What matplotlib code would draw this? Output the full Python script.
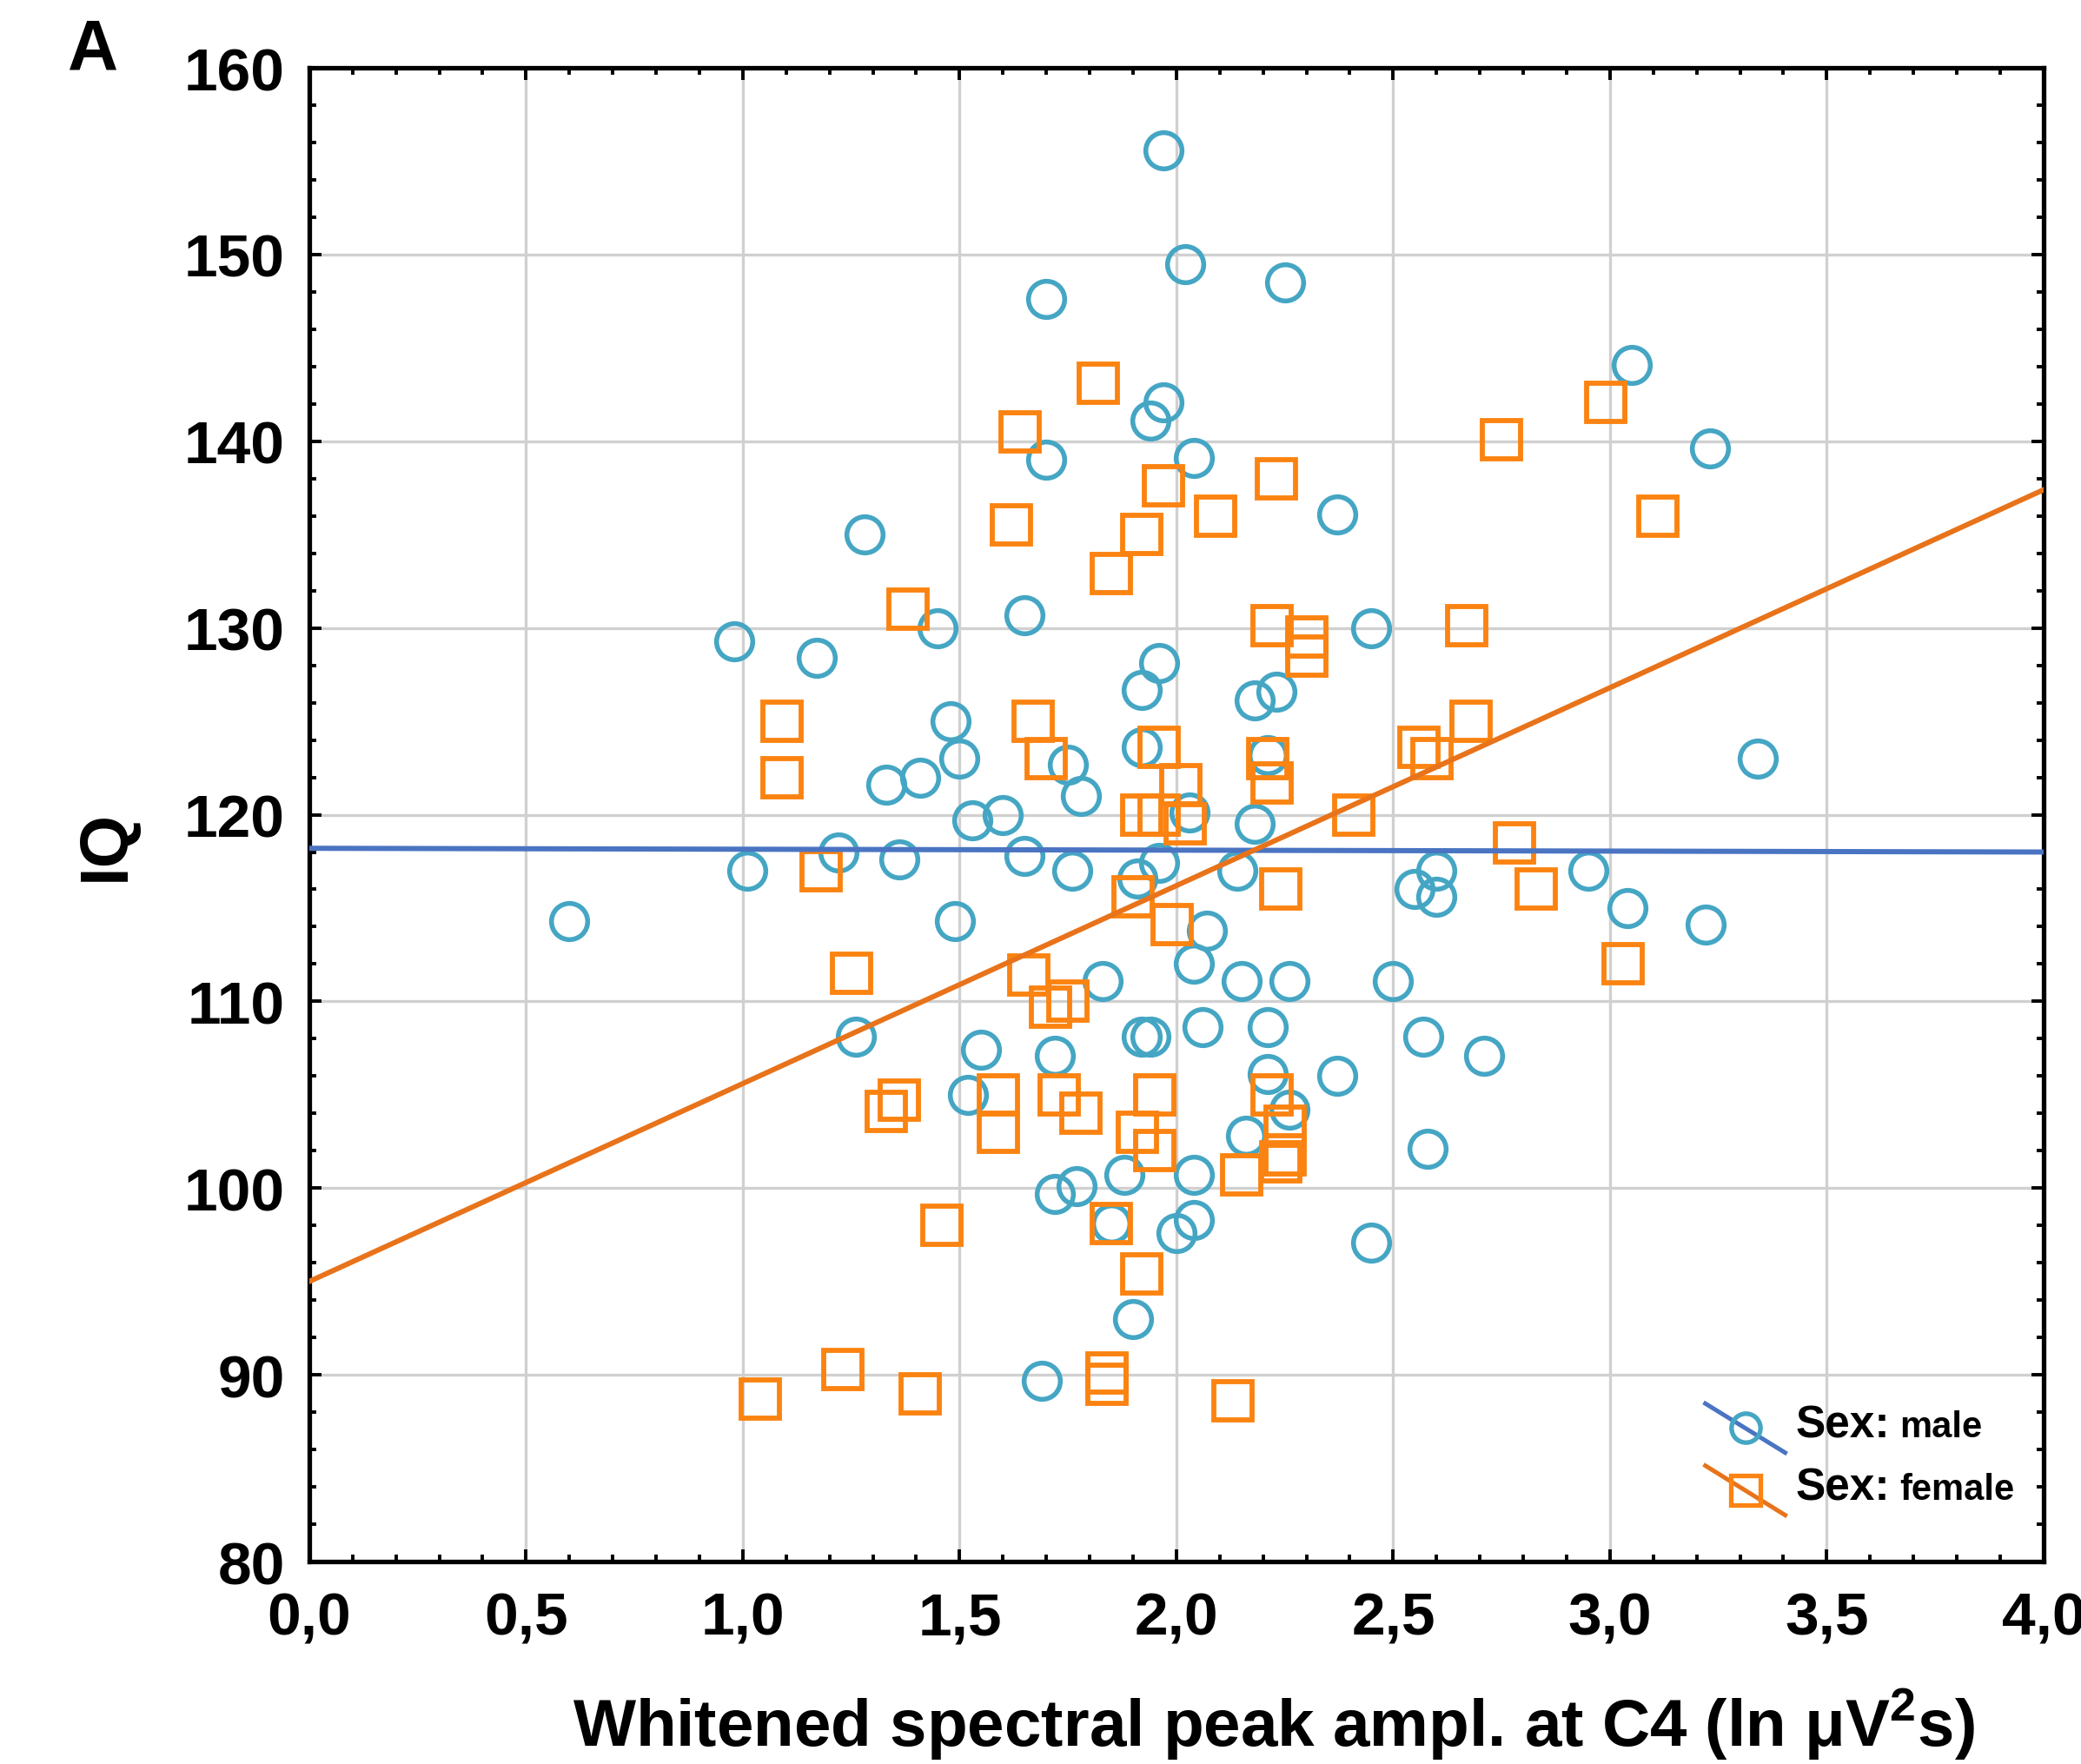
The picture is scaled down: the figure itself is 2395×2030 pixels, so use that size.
import matplotlib
matplotlib.use('Agg')
import matplotlib.pyplot as plt
from matplotlib.lines import Line2D
from matplotlib.ticker import MultipleLocator, FuncFormatter
import numpy as np

plt.rcParams['font.family'] = ['Liberation Sans', 'DejaVu Sans']
plt.rcParams['mathtext.fontset'] = 'custom'
plt.rcParams['mathtext.rm'] = 'Liberation Sans'
plt.rcParams['mathtext.bf'] = 'Liberation Sans:bold'

# male: whitened spectral peak amplitude vs IQ
male_x = [0.60, 0.98, 1.01, 1.17, 1.22, 1.28, 1.33, 1.36, 1.41, 1.26,
          1.45, 1.48, 1.50, 1.49, 1.53, 1.55, 1.52, 1.60, 1.65, 1.65,
          1.70, 1.70, 1.69, 1.72, 1.75, 1.78, 1.76, 1.72, 1.77, 1.83,
          1.88, 1.90, 1.91, 1.92, 1.92, 1.94, 1.97, 1.97, 1.96, 1.96,
          1.92, 1.94, 2.00, 2.02, 2.04, 2.03, 2.04, 2.04, 2.06, 2.04,
          2.07, 2.14, 2.15, 2.16, 2.18, 2.18, 2.23, 2.21, 2.21, 2.25,
          2.26, 2.21, 2.26, 2.37, 2.37, 2.45, 2.45, 2.50, 2.55, 2.60,
          2.60, 2.57, 2.58, 2.71, 2.95, 3.04, 3.05, 3.22, 3.23, 3.34,
          1.85]
male_iq = [114.3, 129.3, 117.0, 128.4, 118.0, 135.0, 121.6, 117.6, 122.0, 108.1,
           130.0, 125.0, 123.0, 114.3, 119.7, 107.4, 105.0, 120.0, 130.7, 117.8,
           147.6, 139.0, 89.7, 107.1, 122.7, 121.0, 117.0, 99.7, 100.1, 111.1,
           100.7, 93.0, 116.6, 126.7, 123.6, 141.1, 155.6, 142.1, 128.1, 117.4,
           108.1, 108.1, 97.6, 149.5, 139.1, 120.1, 98.3, 100.7, 108.6, 112.0,
           113.8, 117.0, 111.1, 102.8, 126.1, 119.5, 126.6, 108.6, 106.1, 148.5,
           111.1, 123.2, 104.2, 136.1, 106.0, 130.0, 97.1, 111.1, 116.0, 117.0,
           115.6, 108.1, 102.1, 107.1, 117.0, 115.0, 144.1, 114.1, 139.6, 123.0,
           98.1]

# female
female_x = [1.04, 1.23, 1.41, 1.09, 1.09, 1.18, 1.25, 1.36, 1.33, 1.38,
            1.46, 1.59, 1.59, 1.62, 1.64, 1.66, 1.67, 1.70, 1.71, 1.75,
            1.73, 1.78, 1.82, 1.85, 1.85, 1.84, 1.84, 1.90, 1.91, 1.92,
            1.92, 1.92, 1.96, 1.95, 1.95, 1.96, 1.97, 1.99, 2.01, 2.02,
            2.09, 2.13, 2.15, 2.22, 2.21, 2.22, 2.23, 2.22, 2.24, 2.25,
            2.25, 2.24, 2.30, 2.30, 2.41, 2.56, 2.59, 2.67, 2.68, 2.75,
            2.78, 2.83, 2.99, 3.03, 3.11]
female_iq = [88.7, 90.3, 89.0, 125.0, 122.0, 117.0, 111.5, 104.7, 104.1, 131.0,
             98.0, 105.0, 103.0, 135.5, 140.5, 111.4, 125.0, 123.0, 109.7, 110.0,
             105.0, 104.0, 143.1, 98.1, 132.9, 90.1, 89.5, 115.6, 103.0, 95.4,
             135.0, 120.0, 120.0, 105.0, 102.0, 123.6, 137.6, 114.1, 121.6, 119.5,
             136.0, 88.6, 100.7, 130.1, 123.0, 121.7, 138.0, 105.0, 116.0, 103.3,
             101.8, 101.4, 129.5, 128.5, 120.0, 123.6, 123.0, 130.1, 125.0, 140.1,
             118.5, 116.0, 142.1, 112.0, 136.0]

# regression lines (intercept, slope)
male_fit = (118.2, -0.05)
female_fit = (95.0, 10.6)

c_male = '#45a6c4'
c_female = '#fb8311'
c_male_line = '#4a74c2'
c_female_line = '#e8731a'

fig = plt.figure(figsize=(23.95, 20.31), dpi=100)
ax = fig.add_axes([0.1486, 0.1147, 0.8334, 0.8464])

ax.plot(male_x, male_iq, linestyle='none', marker='o', markersize=30,
        markerfacecolor='none', markeredgecolor=c_male, markeredgewidth=4.0, zorder=3)
ax.plot(female_x, female_iq, linestyle='none', marker='s', markersize=32,
        markerfacecolor='none', markeredgecolor=c_female, markeredgewidth=4.2, zorder=3)

xx = np.array([0.0, 4.0])
ax.plot(xx, male_fit[0] + male_fit[1] * xx, color=c_male_line, lw=4.3, zorder=4)
ax.plot(xx, female_fit[0] + female_fit[1] * xx, color=c_female_line, lw=4.3, zorder=4)

ax.set_xlim(0, 4)
ax.set_ylim(80, 160)
ax.xaxis.set_major_locator(MultipleLocator(0.5))
ax.xaxis.set_minor_locator(MultipleLocator(0.1))
ax.yaxis.set_major_locator(MultipleLocator(10))
ax.yaxis.set_minor_locator(MultipleLocator(2))
ax.xaxis.set_major_formatter(FuncFormatter(lambda v, p: ('%.1f' % v).replace('.', ',')))
ax.yaxis.set_major_formatter(FuncFormatter(lambda v, p: '%d' % v))
ax.grid(True, which='major', color='#d0d0d0', lw=2.4, zorder=0)
ax.set_axisbelow(True)

ax.tick_params(which='both', direction='in', top=True, right=True, width=2.8, color='black')
ax.tick_params(which='major', length=10)
ax.tick_params(which='minor', length=6)
ax.tick_params(axis='x', which='major', pad=24)
ax.tick_params(axis='y', which='major', pad=20)
for lab in ax.get_xticklabels() + ax.get_yticklabels():
    lab.set_fontsize(50)
    lab.set_fontweight('bold')
for s in ax.spines.values():
    s.set_linewidth(3.8)

ax.set_xlabel('Whitened spectral peak ampl. at C4 (ln \u03bcV$^{\\mathbf{2}}$s)',
              fontsize=55, fontweight='bold', va='center')
ax.xaxis.set_label_coords(0.556, -0.109)
ax.set_ylabel('IQ', fontsize=56, fontweight='bold', va='center')
ax.yaxis.set_label_coords(-0.117, 0.48)

fig.text(0.0447, 0.9714, 'A', fontsize=58, fontweight='bold', ha='center', va='center')

# legend drawn by hand: diagonal line through the marker
for (x0, x1, y0, y1, ym, yb, col, lcol, mk, ms, label) in [
        (0.805, 0.851, 0.1058, 0.0729, 0.0898, 0.0836, c_male, c_male_line, 'o', 24, 'male'),
        (0.805, 0.851, 0.0642, 0.0311, 0.0480, 0.0418, c_female, c_female_line, 's', 25, 'female')]:
    ax.add_line(Line2D([x0, x1], [y0, y1], transform=ax.transAxes, color=lcol, lw=3.6, zorder=5))
    ax.add_line(Line2D([(x0 + x1) / 2], [ym], transform=ax.transAxes, linestyle='none',
                       marker=mk, markersize=ms, markerfacecolor='none',
                       markeredgecolor=col, markeredgewidth=3.8, zorder=5))
    ax.text(0.857, yb, 'Sex:', transform=ax.transAxes, fontsize=37,
            fontweight='bold', va='baseline', ha='left')
    ax.text(0.917, yb, label, transform=ax.transAxes, fontsize=30,
            fontweight='bold', va='baseline', ha='left')

fig.savefig('out.png', dpi=100)
